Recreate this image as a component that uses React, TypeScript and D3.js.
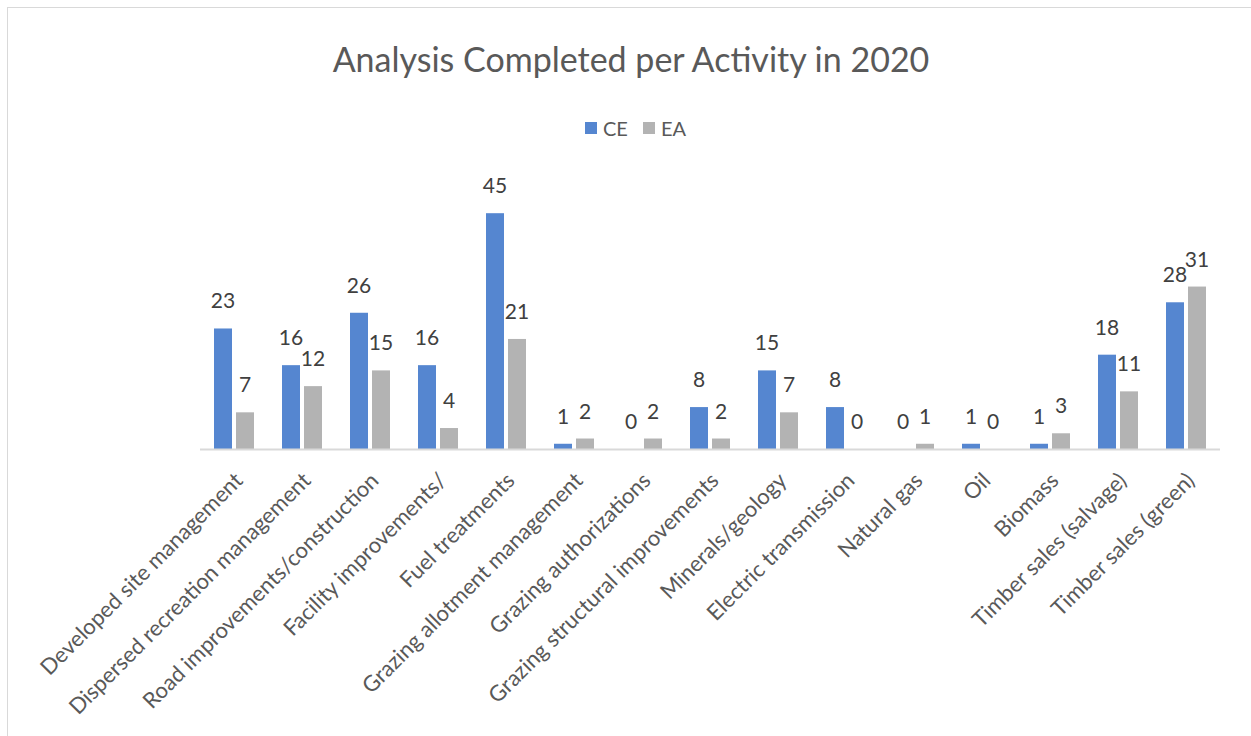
import React, { useEffect, useRef } from 'react';
import * as d3 from 'd3';

const categories = [
  'Developed site management',
  'Dispersed recreation management',
  'Road improvements/construction',
  'Facility improvements/',
  'Fuel treatments',
  'Grazing allotment management',
  'Grazing authorizations',
  'Grazing structural improvements',
  'Minerals/geology',
  'Electric transmission',
  'Natural gas',
  'Oil',
  'Biomass',
  'Timber sales (salvage)',
  'Timber sales (green)',
];
const ceValues = [23, 16, 26, 16, 45, 1, 0, 8, 15, 8, 0, 1, 1, 18, 28];
const eaValues = [7, 12, 15, 4, 21, 2, 2, 2, 7, 0, 1, 0, 3, 11, 31];
const seriesNames = ['CE', 'EA'];
const seriesColors = ['#5586D0', '#B3B3B3'];

const W = 1251;
const H = 736;
const FONT = 'Lato, "Open Sans", sans-serif';

const App = () => {
  const ref = useRef(null);

  useEffect(() => {
    const svg = d3.select(ref.current);
    svg.selectAll('*').remove();

    const x0 = d3.scaleBand().domain(categories).range([200, 1220]);
    const x1 = d3
      .scaleBand()
      .domain(seriesNames)
      .range([12, x0.bandwidth() - 12]);
    const y = d3.scaleLinear().domain([0, 50]).range([449, 187]);

    // chart frame
    svg
      .append('rect')
      .attr('x', 7.5)
      .attr('y', 7.5)
      .attr('width', W + 20)
      .attr('height', H + 20)
      .attr('fill', '#fff')
      .attr('stroke', '#D9D9D9');

    svg
      .append('text')
      .attr('x', 631)
      .attr('y', 72)
      .attr('text-anchor', 'middle')
      .attr('font-family', FONT)
      .attr('font-size', 34)
      .attr('fill', '#595959')
      .text('Analysis Completed per Activity in 2020');

    // legend
    const legend = svg
      .selectAll('g.legend')
      .data(seriesNames)
      .enter()
      .append('g')
      .attr('class', 'legend')
      .attr('transform', (d, i) => `translate(${585 + i * 58} 122)`);
    legend
      .append('rect')
      .attr('width', 12)
      .attr('height', 12)
      .attr('fill', (d, i) => seriesColors[i]);
    legend
      .append('text')
      .attr('x', 18)
      .attr('y', 14)
      .attr('font-family', FONT)
      .attr('font-size', 20)
      .attr('fill', '#595959')
      .text(d => d);

    const rows = categories.map((c, i) => ({
      cat: c,
      vals: [ceValues[i], eaValues[i]],
    }));

    const groups = svg
      .selectAll('g.cat')
      .data(rows)
      .enter()
      .append('g')
      .attr('class', 'cat')
      .attr('transform', d => `translate(${x0(d.cat)} 0)`);

    const bars = groups
      .selectAll('g.bar')
      .data(d => d.vals.map((v, i) => ({ s: seriesNames[i], v, i })))
      .enter()
      .append('g')
      .attr('class', 'bar');

    bars
      .append('rect')
      .attr('x', d => x1(d.s) + 2)
      .attr('y', d => y(d.v))
      .attr('width', x1.bandwidth() - 4)
      .attr('height', d => y(0) - y(d.v))
      .attr('fill', d => seriesColors[d.i]);

    bars
      .append('text')
      .attr('x', d => x1(d.s) + x1.bandwidth() / 2)
      .attr('y', d => y(d.v) - 20)
      .attr('text-anchor', 'middle')
      .attr('font-family', FONT)
      .attr('font-size', 21)
      .attr('fill', '#404040')
      .text(d => d.v);

    // axis line
    svg
      .append('line')
      .attr('x1', 200)
      .attr('x2', 1220)
      .attr('y1', y(0) + 0.5)
      .attr('y2', y(0) + 0.5)
      .attr('stroke', '#D9D9D9')
      .attr('stroke-width', 2);

    // category labels
    groups
      .append('text')
      .attr(
        'transform',
        `translate(${x0.bandwidth() / 2 + 10} 482) rotate(-45)`
      )
      .attr('text-anchor', 'end')
      .attr('font-family', FONT)
      .attr('font-size', 22)
      .attr('fill', '#595959')
      .text(d => d.cat);
  }, []);

  return (
    <svg
      ref={ref}
      width={W}
      height={H}
      style={{ position: 'absolute', left: 0, top: 0, background: '#fff' }}
    />
  );
};

export default App;
